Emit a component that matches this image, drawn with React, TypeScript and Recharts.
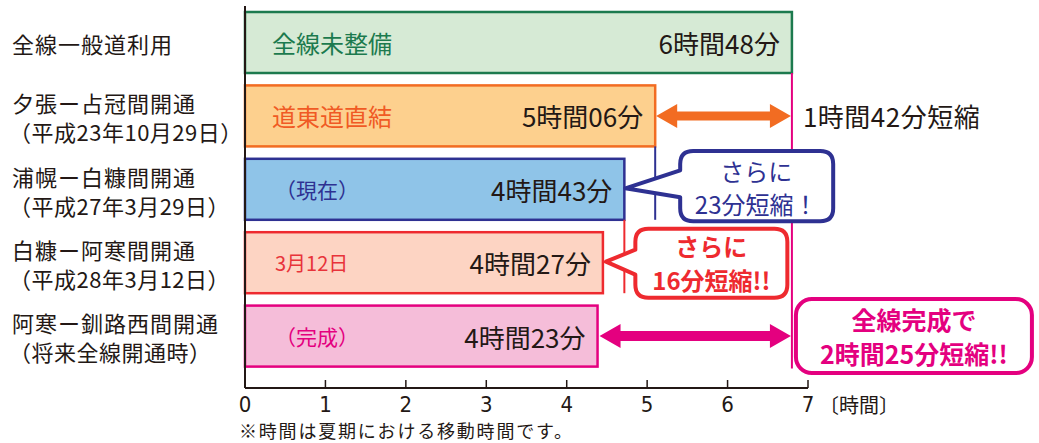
import { BarChart, Bar, XAxis, YAxis } from 'recharts'

const routes = ['全線一般道利用', '夕張ー占冠間開通', '浦幌ー白糠間開通', '白糠ー阿寒間開通', '阿寒ー釧路西間開通']
const routeNotes = ['', '（平成23年10月29日）', '（平成27年3月29日）', '（平成28年3月12日）', '（将来全線開通時）']
const minutes = [408, 306, 283, 267, 263]
const timeLabels = ['6時間48分', '5時間06分', '4時間43分', '4時間27分', '4時間23分']
const barTags = ['全線未整備', '道東道直結', '（現在）', '3月12日', '（完成）']
const xTicks = [0, 1, 2, 3, 4, 5, 6, 7]

const FILLS = ['#d6ead5', '#fdd08e', '#8fc4e8', '#fdd4c3', '#f5bdd9']
const STROKES = ['#1c7a4e', '#f26c22', '#2e3192', '#ee2a2f', '#e4007f']
const TAG_COLORS = ['#1c7a4e', '#f05a24', '#2e3192', '#e8333a', '#e4007f']
const INK = '#231815'
const FONT = "'Noto Sans CJK JP', sans-serif"
const NARROW = "'DejaVu Sans Condensed', 'DejaVu Sans', sans-serif"

const data = routes.map((name, i) => ({ name, hours: minutes[i] / 60 }))

// bar geometry gathered while the shapes render, used for the arrows and callouts
const geo: { x: number; y: number; w: number; h: number; k: number }[] = []

function arrowPoints(xa: number, xb: number, yc: number, shaft: number) {
    const hl = 21
    const hh = 12
    return [
        [xa, yc], [xa + hl, yc - hh], [xa + hl, yc - shaft], [xb - hl, yc - shaft], [xb - hl, yc - hh],
        [xb, yc], [xb - hl, yc + hh], [xb - hl, yc + shaft], [xa + hl, yc + shaft], [xa + hl, yc + hh],
    ].map(p => p.join(',')).join(' ')
}

function calloutPath(l: number, t: number, r: number, b: number, p1: number, p2: number, tx: number, ty: number) {
    const rad = 13
    return `M${l + rad},${t} H${r - rad} Q${r},${t} ${r},${t + rad} V${b - rad} Q${r},${b} ${r - rad},${b} ` +
        `H${l + rad} Q${l},${b} ${l},${b - rad} V${p2} L${tx},${ty} L${l},${p1} V${t + rad} Q${l},${t} ${l + rad},${t} Z`
}

function Annotations() {
    const g = geo
    const X = (v: number) => g[0].x + v * g[0].k
    const cy = (i: number) => g[i].y + g[i].h / 2
    const bottom = (i: number) => g[i].y + g[i].h
    const full = X(minutes[0] / 60)
    const b2 = X(minutes[1] / 60)
    const b3 = X(minutes[2] / 60)
    const b4 = X(minutes[3] / 60)
    const b5 = X(minutes[4] / 60)

    const blueL = b2 + 25
    const redL = b3 + 11
    const magL = full + 4
    const callText = { textAnchor: 'middle' as const, dominantBaseline: 'central' as const, fontSize: 24, fontFamily: FONT }

    return (
        <g>
            <line x1={full} x2={full} y1={bottom(0)} y2={bottom(4) + 2} stroke="#e4007f" strokeWidth={2} />
            <line x1={b2} x2={b2} y1={bottom(1)} y2={bottom(2)} stroke="#2e3192" strokeWidth={2} />
            <line x1={b3} x2={b3} y1={bottom(2)} y2={bottom(3)} stroke="#ee2a2f" strokeWidth={2} />

            <polygon points={arrowPoints(b2 + 1, full - 1, cy(1), 4.5)} fill="#f26c22" />
            <text x={full + 11} y={cy(1)} dominantBaseline="central" fontSize={26} letterSpacing={0.5} fill={INK} fontFamily={FONT}>1時間42分短縮</text>

            <polygon points={arrowPoints(b5 + 2, full - 1, cy(4), 5)} fill="#e4007f" />

            <path d={calloutPath(blueL, cy(1) + 35, blueL + 153, cy(2) + 32, cy(2) - 19, cy(2) + 8, b3 + 1, cy(2) - 1)}
                fill="#fff" stroke="#2e3192" strokeWidth={4} strokeLinejoin="round" />
            <text {...callText} x={blueL + 76} y={cy(2) - 19} fill="#2e3192">さらに</text>
            <text {...callText} x={blueL + 76} y={cy(2) + 14} fill="#2e3192">23分短縮！</text>

            <path d={calloutPath(redL, cy(3) - 34, redL + 152, cy(3) + 35, cy(3) - 13, cy(3) + 12, b4 + 3, cy(3) - 1)}
                fill="#fff" stroke="#ee2a2f" strokeWidth={4} strokeLinejoin="round" />
            <text {...callText} x={redL + 76} y={cy(3) - 17} fontWeight={700} fill="#ee2a2f">さらに</text>
            <text {...callText} x={redL + 76} y={cy(3) + 17} fontWeight={700} fill="#ee2a2f">16分短縮!!</text>

            <rect x={magL} y={cy(4) - 37} width={236} height={74} rx={16} fill="#fff" stroke="#e4007f" strokeWidth={4} />
            <text {...callText} x={magL + 118} y={cy(4) - 17} fontSize={25} fontWeight={700} fill="#e4007f">全線完成で</text>
            <text {...callText} x={magL + 118} y={cy(4) + 17} fontSize={25} fontWeight={700} fill="#e4007f">2時間25分短縮!!</text>
        </g>
    )
}

function BarShape(props: any) {
    const { x, y, width, height, index } = props
    geo[index] = { x, y, w: width, h: height, k: width / (minutes[index] / 60) }
    const cy = y + height / 2
    const small = index === 3
    return (
        <g>
            <rect x={x} y={y} width={width} height={height} fill={FILLS[index]} stroke={STROKES[index]} strokeWidth={2.5} />
            <text x={x + (index >= 2 ? 30 : 27)} y={cy} dominantBaseline="central" fontSize={small ? 20 : index >= 2 ? 21 : 24}
                fill={TAG_COLORS[index]} fontFamily={FONT}>{barTags[index]}</text>
            <text x={x + width - 12} y={cy} textAnchor="end" dominantBaseline="central" fontSize={26} fill={INK} fontFamily={FONT}>
                {timeLabels[index]}
            </text>
            {index === routes.length - 1 && <Annotations />}
        </g>
    )
}

function RouteTick(props: any) {
    const { y, index } = props
    const note = routeNotes[index]
    const common = { x: 12, fontSize: 22, fill: INK, fontFamily: FONT, letterSpacing: 1, dominantBaseline: 'central' as const }
    if (!note) return <text {...common} y={y}>{routes[index]}</text>
    return (
        <g>
            <text {...common} y={y - 14}>{routes[index]}</text>
            <text {...common} x={9} y={y + 15} letterSpacing={0.5}>{note}</text>
        </g>
    )
}

function HourTick(props: any) {
    const { x, y, payload, index } = props
    return (
        <g>
            <line x1={x} x2={x} y1={y} y2={y - 8} stroke={INK} strokeWidth={1.5} />
            <text x={x} y={y + 16} textAnchor="middle" dominantBaseline="central" fontSize={22} fontStretch="condensed" fill={INK} fontFamily={NARROW}>
                {payload.value}
            </text>
            {index === xTicks.length - 1 && (
                <text x={x + 11} y={y + 16} dominantBaseline="central" fontSize={20} fill={INK} fontFamily={FONT}>〔時間〕</text>
            )}
            {index === 0 && (
                <text x={x - 6} y={y + 42} dominantBaseline="central" fontSize={18} letterSpacing={1.8} fill={INK} fontFamily={FONT}>
                    ※時間は夏期における移動時間です。
                </text>
            )}
        </g>
    )
}

export default function App() {
    return (
        <div style={{ position: 'absolute', left: 0, top: 0, width: 1039, height: 443, background: '#fff' }}>
            <BarChart width={1039} height={443} data={data} layout="vertical"
                margin={{ top: 6, right: 231, left: 0, bottom: 25 }}>
                <XAxis type="number" dataKey="hours" domain={[0, 7]} ticks={xTicks} interval={0}
                    height={30} tickLine={false} tickSize={0} tickMargin={0}
                    axisLine={{ stroke: INK, strokeWidth: 2 }} tick={<HourTick />} />
                <YAxis type="category" dataKey="name" width={245} padding={{ top: 0, bottom: 15 }}
                    tickLine={false} axisLine={{ stroke: INK, strokeWidth: 2 }} tick={<RouteTick />} interval={0} />
                <Bar dataKey="hours" barSize={61} shape={<BarShape />} isAnimationActive={false} />
            </BarChart>
        </div>
    )
}
